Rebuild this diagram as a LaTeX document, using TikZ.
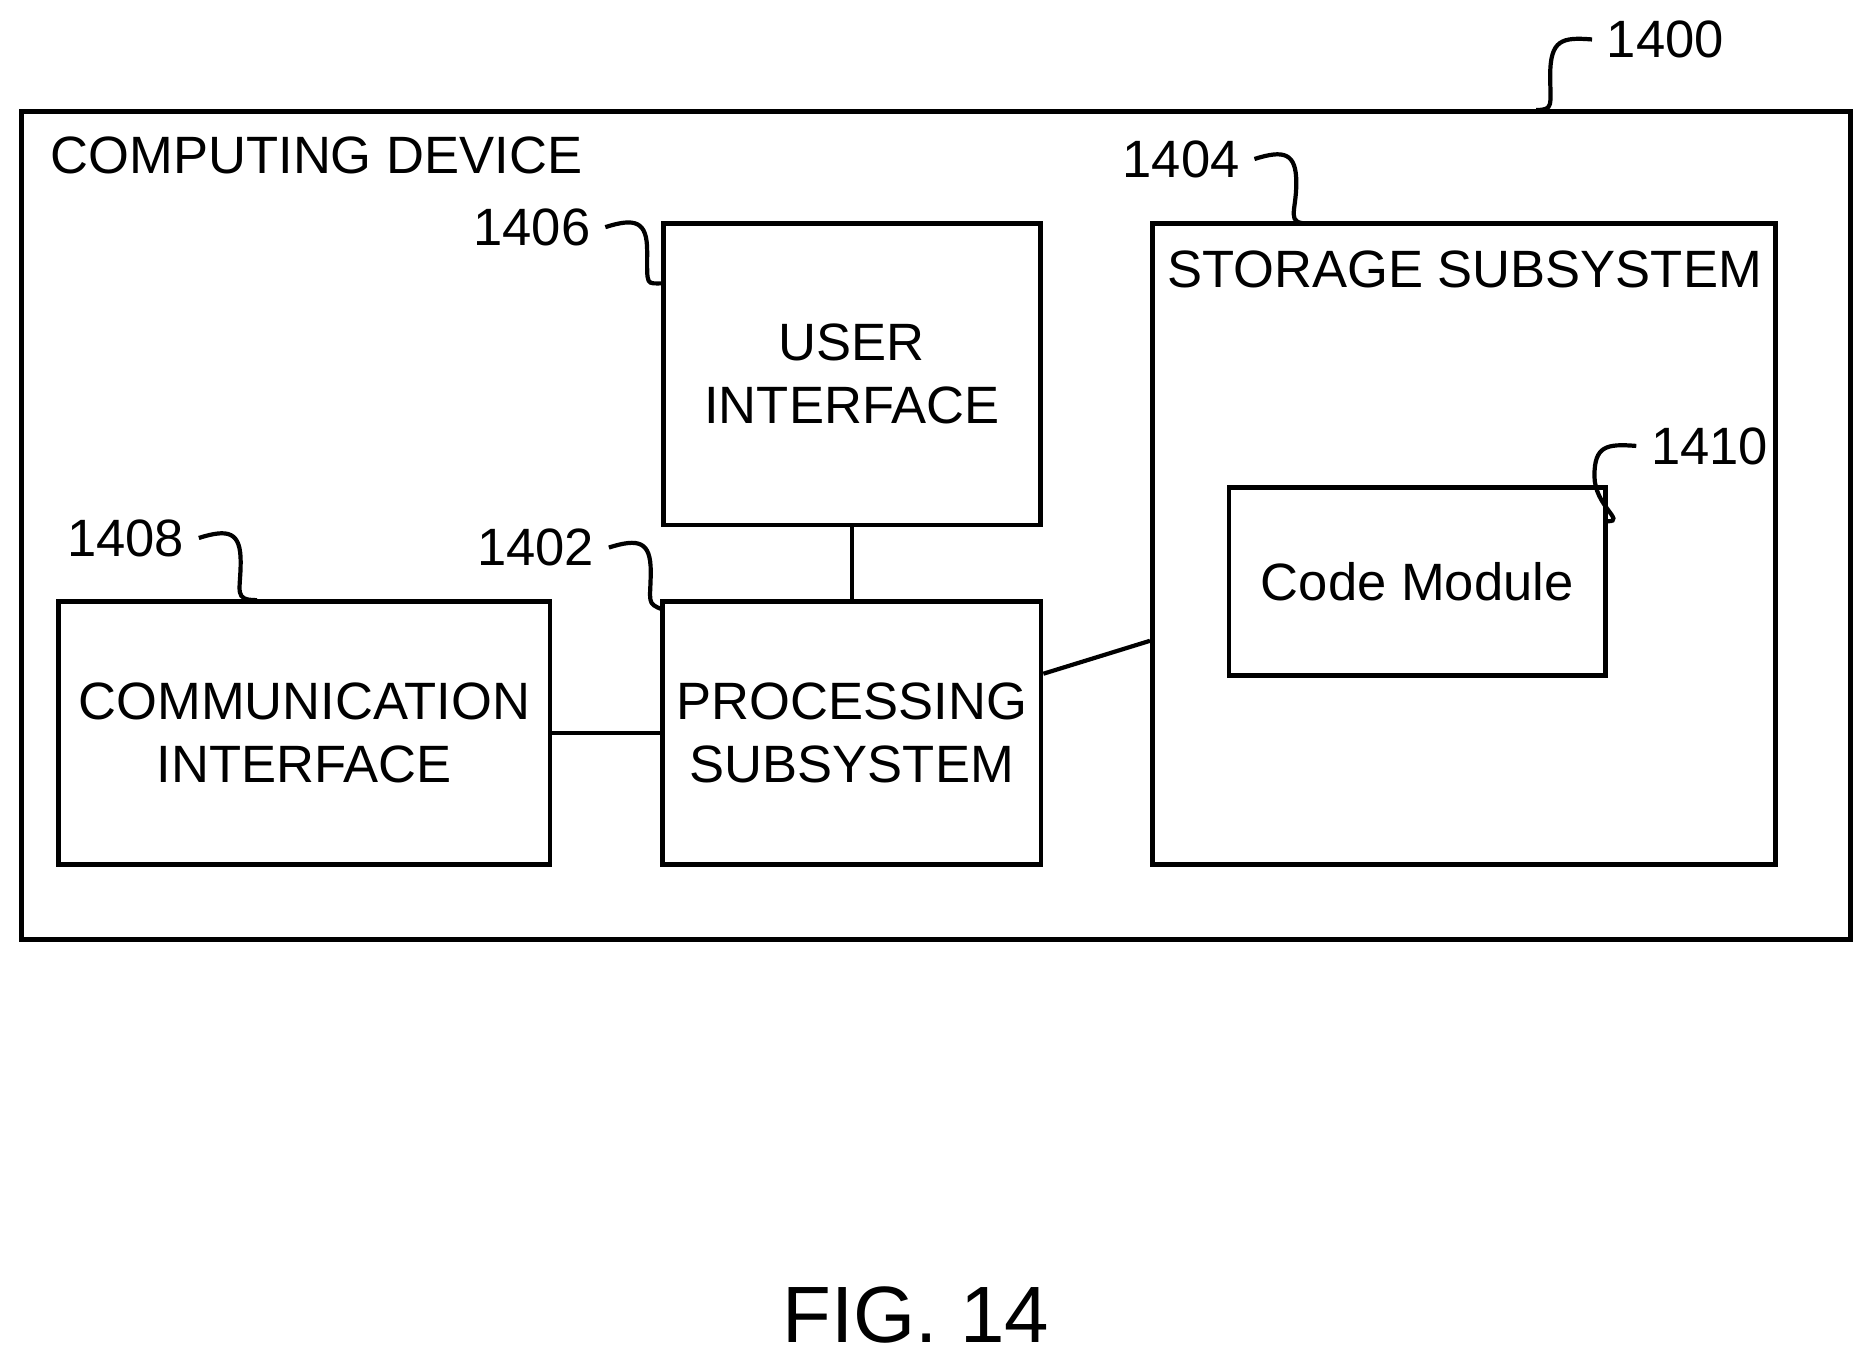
\documentclass[tikz,border=0pt]{standalone}
\usepackage{fontspec}
\setmainfont{Liberation Sans}
\tikzset{
    every node/.style={font=\fontsize{12.5}{15}\selectfont},
    blk/.style={draw, line width=1.1pt},
    lead/.style={line width=1pt}
}

\begin{document}
\begin{tikzpicture}[x=0.01cm, y=-0.01cm]
  \useasboundingbox (0,0) rectangle (1560,1133);
  \draw[blk] (18,93) rectangle (1548,786);
  \node (dev) [anchor=west] at (30,130) {COMPUTING DEVICE};

  \node (ui) [blk, minimum width=3.15cm, minimum height=2.52cm, align=center] at (712.5,313) {USER\\INTERFACE};
  \node (ps) [blk, minimum width=3.15cm, minimum height=2.2cm, align=center] at (712.5,613) {PROCESSING\\SUBSYSTEM};
  \node (ci) [blk, minimum width=4.11cm, minimum height=2.2cm, align=center] at (254.5,613) {COMMUNICATION\\INTERFACE};
  \node (ss) [blk, minimum width=5.21cm, minimum height=5.36cm] at (1224.5,455) {};
  \node (sst) at (1225,225) {STORAGE SUBSYSTEM};
  \node (cm) [blk, minimum width=3.15cm, minimum height=1.57cm] at (1185.5,486.5) {Code Module};
  \node (fig) at (766,1100) {\fontsize{19}{22}\selectfont FIG. 14};

  \draw[lead] (ui) -- (ps);
  \draw[lead] (ci) -- (ps);
  \draw[lead] (ps) -- (ss);

  % reference numerals
  \node (n1400) at (1393,33) {1400};
  \node (n1404) at (988,133) {1404};
  \node (n1406) at (445,190) {1406};
  \node (n1408) at (105,450) {1408};
  \node (n1402) at (448,458) {1402};
  \node (n1410) at (1430,373) {1410};
  \coordinate (p1400) at (1285,92);
  \coordinate (p1404) at (1095,187);
  \coordinate (p1406) at (555,237);
  \coordinate (p1408) at (215,502);
  \coordinate (p1402) at (555,510);
  \coordinate (p1410) at (1345,436);

  \draw[lead] (n1400.west) .. controls +(-25,-2) and +(0,-30) .. +(-35,30) .. controls +(0,25) and +(15,0) .. (p1400);
  \draw[lead] (n1404.east) .. controls +(25,-8) and +(0,-25) .. +(35,20) .. controls +(0,25) and +(-20,0) .. (p1404);
  \draw[lead] (n1406.east) .. controls +(25,-8) and +(0,-25) .. +(35,20) .. controls +(0,30) and +(-15,0) .. (p1406);
  \draw[lead] (n1408.east) .. controls +(25,-8) and +(0,-25) .. +(35,20) .. controls +(0,25) and +(-20,0) .. (p1408);
  \draw[lead] (n1402.east) .. controls +(25,-8) and +(0,-25) .. +(35,20) .. controls +(0,25) and +(-15,-5) .. (p1402);
  \draw[lead] (n1410.west) .. controls +(-25,-2) and +(0,-25) .. +(-35,25) .. controls +(0,25) and +(15,0) .. (p1410);
\end{tikzpicture}
\end{document}
